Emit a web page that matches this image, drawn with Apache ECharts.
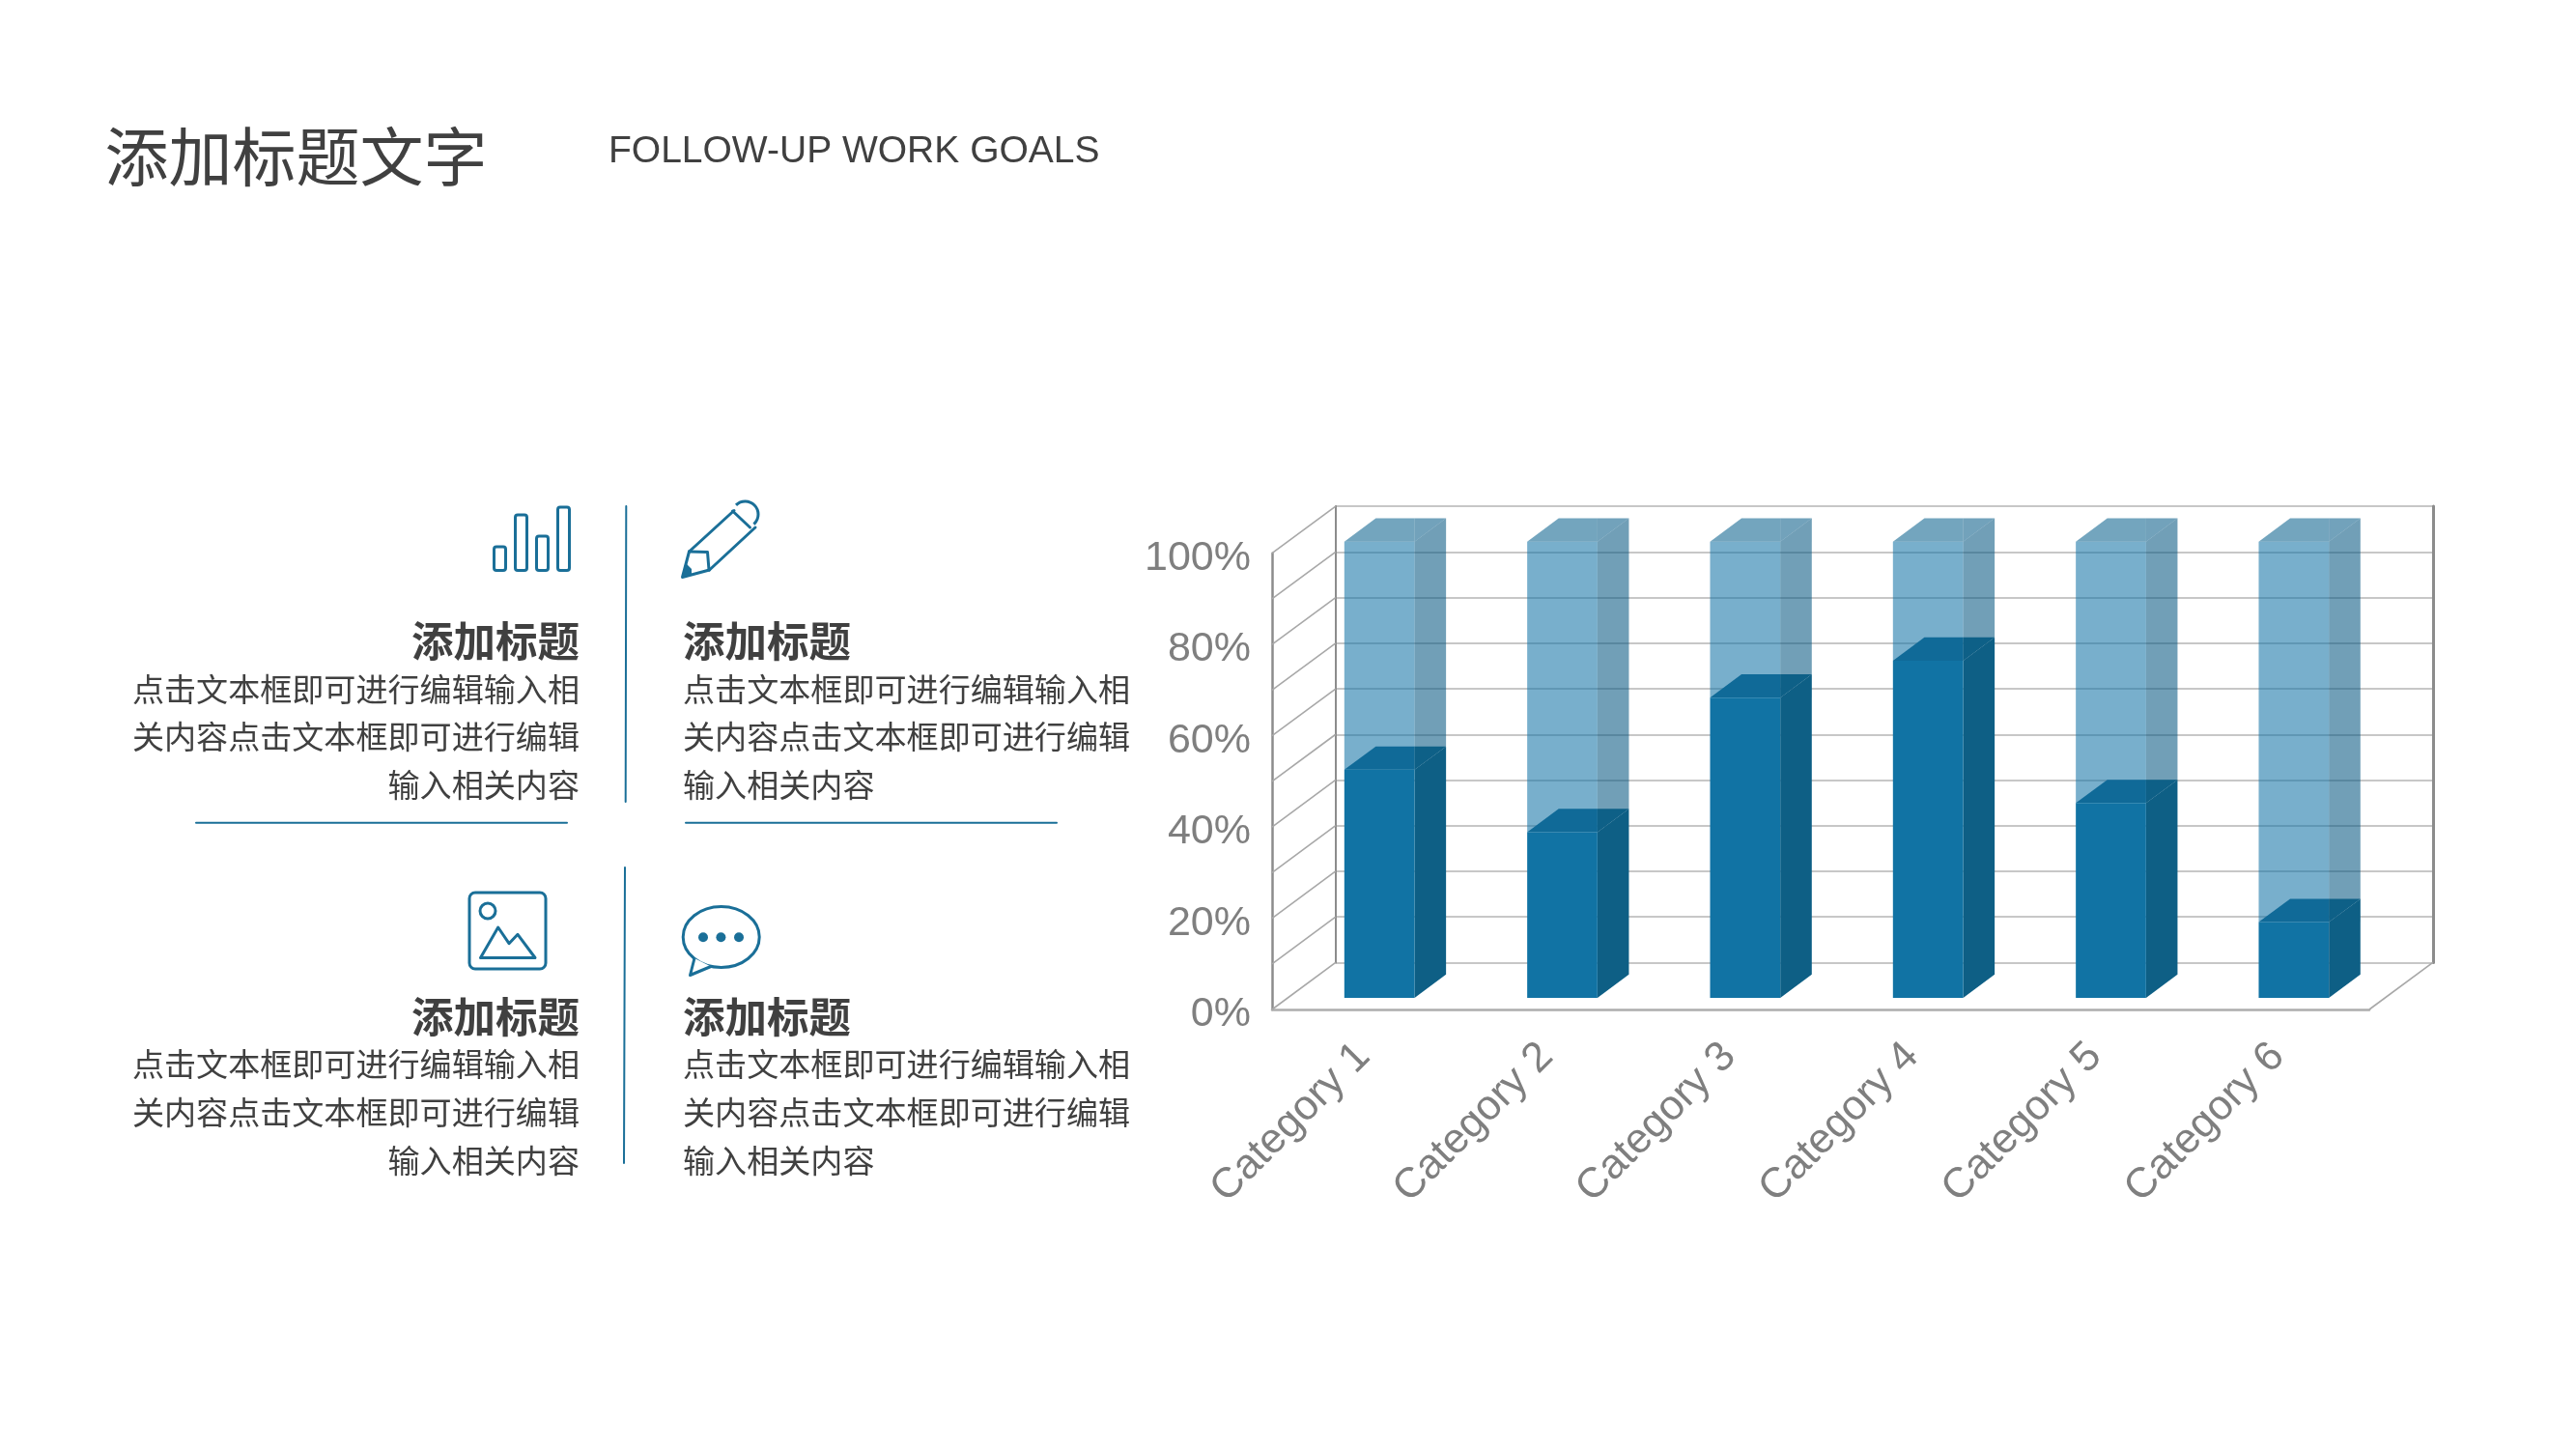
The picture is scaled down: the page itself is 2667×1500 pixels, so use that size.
<!DOCTYPE html>
<html>
<head>
<meta charset="utf-8">
<style>html,body{margin:0;padding:0;background:#fff}#c{width:2667px;height:1500px}</style>
<script src="https://cdn.jsdelivr.net/npm/echarts@6/dist/echarts.min.js"></script>
</head>
<body>
<div id="c"></div>
<script>
const categories = ['Category 1','Category 2','Category 3','Category 4','Category 5','Category 6'];
const series1 = [50, 36.3, 65.8, 73.9, 42.7, 16.6];
const series2 = [50, 63.7, 34.2, 26.1, 57.3, 83.4];
const wallTicks = [0,10,20,30,40,50,60,70,80,90,100];

const mainTitle = '添加标题文字';
const subTitle = 'FOLLOW-UP WORK GOALS';
const heading = '添加标题';
const bodyLines = ['点击文本框即可进行编辑输入相','关内容点击文本框即可进行编辑','输入相关内容'];

const CJK = '"Noto Sans CJK SC","Noto Sans",sans-serif';
const LAT = '"Liberation Sans",Arial,sans-serif';
const TXT = '#404040', TEAL = '#1A6F98', GREY = '#7F7F7F';
const WALL_DX = 65.8, WALL_DY = -48.6;
const BAR_PLANE_DX = 16.5, BAR_PLANE_DY = -12;
const BAR_DX = 32.6, BAR_DY = -24.2, BAR_RATIO = 0.384;

const barItem = (front, side, top, corner) => (params, api) => {
  const cat = api.value(0);
  const hi = api.coord([cat, api.value(2)]);
  const lo = api.coord([cat, api.value(1)]);
  const w = api.size([1, 0])[0] * BAR_RATIO;
  const x0 = hi[0] + BAR_PLANE_DX - w / 2, x1 = x0 + w;
  const yT = hi[1] + BAR_PLANE_DY, yB = lo[1] + BAR_PLANE_DY;
  return { type: 'group', children: [
    { type: 'polygon', shape: { points: [[x1,yT],[x1+BAR_DX,yT+BAR_DY],[x1+BAR_DX,yB+BAR_DY],[x1,yB]] }, style: { fill: side } },
    { type: 'polygon', shape: { points: [[x0,yT],[x0+BAR_DX,yT+BAR_DY],[x1,yT+BAR_DY],[x1,yT]] }, style: { fill: top } },
    { type: 'polygon', shape: { points: [[x1,yT],[x1,yT+BAR_DY],[x1+BAR_DX,yT+BAR_DY]] }, style: { fill: corner } },
    { type: 'rect', shape: { x: x0, y: yT, width: w, height: yB - yT }, style: { fill: front } }
  ]};
};

const txt = (text, x, y, font, size, align, weight, color) => ({
  type: 'text', x, y, silent: true,
  style: { text, fill: color || TXT, font: (weight || 'normal') + ' ' + size + 'px ' + font, textAlign: align, textVerticalAlign: 'middle' }
});
const ln = (pts, w, extra) => ({ type: 'polyline', silent: true, shape: { points: pts }, style: Object.assign({ stroke: TEAL, lineWidth: w || 3, fill: null, lineJoin: 'round', lineCap: 'round' }, extra || {}) });
const roundBar = (x, y, w, h) => ({ type: 'rect', silent: true, shape: { x, y, width: w, height: h, r: 2.5 }, style: { stroke: TEAL, lineWidth: 3, fill: null } });

const graphics = [
  txt(mainTitle, 108.5, 161.5, CJK, 66, 'left'),
  txt(subTitle, 630, 157, LAT, 39, 'left'),
  ln([[648.3,524],[647.7,830]], 2),
  ln([[647,898],[646,1204]], 2),
  ln([[203,851.7],[587,851.7]], 2),
  ln([[710,851.7],[1094,851.7]], 2),
  // bars icon
  roundBar(511.5,566,12,24.5), roundBar(533.5,533,12,57.5), roundBar(555.5,555,12,35.5), roundBar(577.5,525,12,65.5),
  // pencil icon
  ln([[713.5,571],[760,528.5]]),
  ln([[734.5,590],[782,546]]),
  { type: 'arc', silent: true, shape: { cx: 771.5, cy: 532.5, r: 13.5, startAngle: -2.35, endAngle: 0.85 }, style: { stroke: TEAL, lineWidth: 3, fill: null } },
  ln([[758.5,529],[776.5,546]]),
  ln([[713.5,571],[706.5,597.5],[734.5,590]]),
  ln([[713.5,571],[732.5,571.5],[734,590]]),
  { type: 'polygon', silent: true, shape: { points: [[706,598],[710,583],[716,589],[716,595]] }, style: { fill: TEAL } },
  // image icon
  { type: 'rect', silent: true, shape: { x: 486, y: 924, width: 79, height: 79, r: 6 }, style: { stroke: TEAL, lineWidth: 3, fill: null } },
  { type: 'circle', silent: true, shape: { cx: 505, cy: 943, r: 8 }, style: { stroke: TEAL, lineWidth: 3, fill: null } },
  { type: 'polygon', silent: true, shape: { points: [[497.5,991.5],[515.7,960],[527,976.7],[536,967.3],[554,991.5]] }, style: { stroke: TEAL, lineWidth: 3, fill: null, lineJoin: 'round' } },
  // bubble icon
  { type: 'ellipse', silent: true, shape: { cx: 746.7, cy: 970, rx: 39.5, ry: 31.5 }, style: { stroke: TEAL, lineWidth: 3, fill: null } },
  { type: 'polyline', silent: true, shape: { points: [[719,992],[714.5,1009.5],[736,1000.5]] }, style: { stroke: TEAL, lineWidth: 3, fill: '#fff', lineJoin: 'round' } },
  { type: 'circle', silent: true, shape: { cx: 728, cy: 970.3, r: 5 }, style: { fill: TEAL } },
  { type: 'circle', silent: true, shape: { cx: 746.4, cy: 970.3, r: 5 }, style: { fill: TEAL } },
  { type: 'circle', silent: true, shape: { cx: 765, cy: 970.3, r: 5 }, style: { fill: TEAL } }
];
[[663, 713, 762, 812],[1052.5, 1101.5, 1151.5, 1201.5]].forEach(r => {
  graphics.push(txt(heading, 600, r[0], CJK, 43.5, 'right', 'bold'));
  graphics.push(txt(heading, 707, r[0], CJK, 43.5, 'left', 'bold'));
  bodyLines.forEach((t, i) => {
    graphics.push(txt(t, 600, r[i + 1], CJK, 33.1, 'right'));
    graphics.push(txt(t, 707, r[i + 1], CJK, 33.1, 'left'));
  });
});

const chart = echarts.init(document.getElementById('c'), null, { renderer: 'canvas', width: 2667, height: 1500 });
chart.setOption({
  animation: false,
  backgroundColor: '#ffffff',
  grid: [
    { left: 1317, top: 572.7, width: 1136, height: 472.3 },
    { left: 1317 + WALL_DX, top: 572.7 + WALL_DY, width: 1136, height: 472.3 },
    { left: 1317, top: 578, width: 1136, height: 472.3 }
  ],
  xAxis: [
    { type: 'category', gridIndex: 0, data: categories,
      axisLine: { show: true, lineStyle: { color: '#ADADAD', width: 2.5 } }, axisTick: { show: false },
      axisLabel: { rotate: 45, color: GREY, fontFamily: LAT, fontSize: 43.5, margin: 42, interval: 0 } },
    { type: 'category', gridIndex: 1, data: categories, show: false },
    { type: 'category', gridIndex: 2, data: categories, show: false }
  ],
  yAxis: [
    { type: 'value', gridIndex: 0, min: 0, max: 100, interval: 20,
      axisLine: { show: true, lineStyle: { color: '#8C8C8C', width: 2.5 } }, axisTick: { show: false }, splitLine: { show: false },
      axisLabel: { show: false } },
    { type: 'value', gridIndex: 1, min: 0, max: 100, interval: 10, position: 'left',
      axisLine: { show: true, lineStyle: { color: '#8C8C8C', width: 2 } }, axisTick: { show: false }, axisLabel: { show: false },
      splitLine: { show: true, lineStyle: { color: '#B4B4B4', width: 1.6 } } },
    { type: 'value', gridIndex: 1, min: 0, max: 100, interval: 100, position: 'right',
      axisLine: { show: true, lineStyle: { color: '#8C8C8C', width: 3 } }, axisTick: { show: false }, axisLabel: { show: false }, splitLine: { show: false } },
    { type: 'value', gridIndex: 2, min: 0, max: 100, interval: 20,
      axisLine: { show: false }, axisTick: { show: false }, splitLine: { show: false },
      axisLabel: { formatter: '{value}%', color: GREY, fontFamily: LAT, fontSize: 43, margin: 22 } }
  ],
  graphic: { elements: graphics },
  series: [
    { type: 'custom', name: 'wall', xAxisIndex: 0, yAxisIndex: 0, silent: true, z: 1, clip: false,
      data: wallTicks.map(v => [0, v]),
      renderItem: (params, api) => {
        const c = api.coord([0, api.value(1)]);
        const x = params.coordSys.x;
        const seg = (a) => ({ type: 'line', shape: { x1: a, y1: c[1], x2: a + WALL_DX, y2: c[1] + WALL_DY }, style: { stroke: '#A8A8A8', lineWidth: 1.6 } });
        const kids = [seg(x)];
        if (api.value(1) === 0) kids.push(seg(x + params.coordSys.width));
        return { type: 'group', children: kids };
      } },
    { type: 'custom', name: 'Series 2', xAxisIndex: 0, yAxisIndex: 0, z: 3, clip: false,
      encode: { x: 0, y: 2 },
      data: categories.map((c, i) => [i, series1[i], series1[i] + series2[i]]),
      renderItem: barItem('rgba(17,115,165,0.57)', 'rgba(10,90,131,0.58)', 'rgba(14,100,143,0.58)', 'rgba(12,95,137,0.58)') },
    { type: 'custom', name: 'Series 1', xAxisIndex: 0, yAxisIndex: 0, z: 4, clip: false,
      encode: { x: 0, y: 2 },
      data: categories.map((c, i) => [i, 0, series1[i]]),
      renderItem: barItem('#1173A4', '#0E5F85', '#106A98', '#0E6087') }
  ]
});
</script>
</body>
</html>
